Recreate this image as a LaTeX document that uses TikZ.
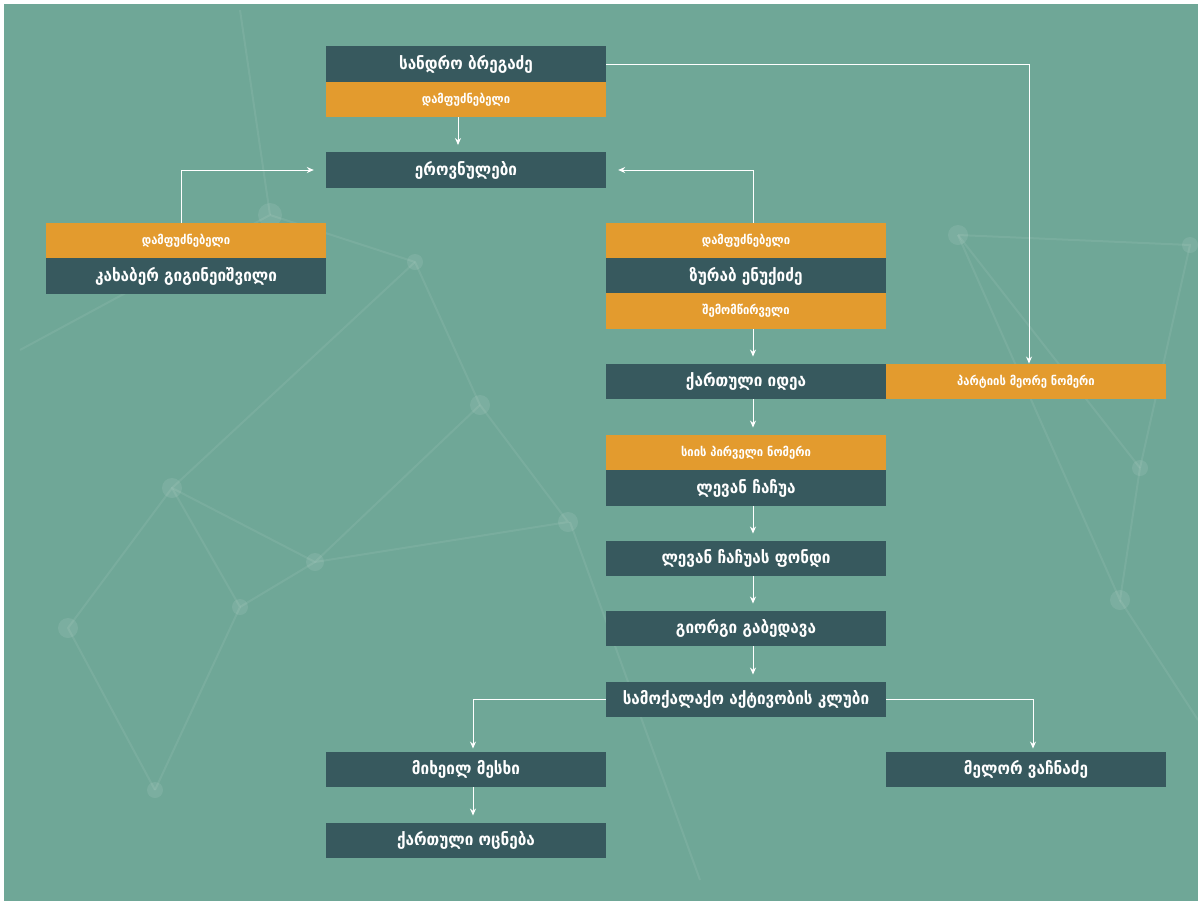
\documentclass[tikz,border=0pt]{standalone}
\usepackage{fontspec}
\newfontfamily\geofont{DejaVu Sans Condensed}
\usetikzlibrary{arrows.meta}

\definecolor{bgteal}{HTML}{6FA797}
\definecolor{boxdark}{HTML}{37595E}
\definecolor{boxorange}{HTML}{E39B2E}

\tikzset{
  namebox/.style={fill=boxdark, text=white, minimum width=280pt, minimum height=35.5pt,
    inner sep=0pt, font=\geofont\bfseries\fontsize{17}{17}\selectfont},
  rolebox/.style={namebox, fill=boxorange, font=\geofont\bfseries\fontsize{12.5}{12.5}\selectfont},
  link/.style={draw=white, line width=1pt, -{Stealth[length=7pt,width=6pt]}, shorten >=7pt},
  netline/.style={white, opacity=0.07, line width=2pt},
  netdot/.style={fill=white, opacity=0.09},
}

\begin{document}
\begin{tikzpicture}[x=1pt,y=-1pt]

  % background
  \fill [white] (0,0) rectangle (1203,906);
  \fill [bgteal] (4,4) rectangle (1198,901);

  % faint network behind
  \draw [netline] (270,215) -- (415,262) -- (480,405) -- (568,522) -- (315,562) -- (172,488) -- (68,628) -- (155,790);
  \draw [netline] (415,262) -- (172,488) -- (240,607) -- (155,790);
  \draw [netline] (240,607) -- (315,562) -- (480,405);
  \draw [netline] (270,215) -- (20,350) (270,215) -- (240,10) (570,522) -- (700,880);
  \draw [netline] (958,235) -- (1190,245) -- (1140,468) -- (1120,600) -- (958,235);
  \draw [netline] (958,235) -- (1140,468) (1120,600) -- (1198,720);
  \foreach \p/\r in {{270,215}/12, {415,262}/8, {480,405}/10, {568,522}/10, {315,562}/9,
                     {172,488}/10, {68,628}/10, {155,790}/8, {240,607}/8, {958,235}/10,
                     {1190,245}/8, {1140,468}/8, {1120,600}/10}
    \fill [netdot] (\p) circle [radius=\r];

  % top
  \node [namebox] (sandro) at (466,64) {სანდრო ბრეგაძე};
  \node [rolebox] (sandrorole) at (466,99.5) {დამფუძნებელი};
  \node [namebox] (nationals) at (466,170) {ეროვნულები};

  % left
  \node [rolebox] (kakhaberrole) at (186,240.5) {დამფუძნებელი};
  \node [namebox] (kakhaber) at (186,276) {კახაბერ გიგინეიშვილი};

  % right column
  \node [rolebox] (zurabrole) at (746,240.5) {დამფუძნებელი};
  \node [namebox] (zurab) at (746,276) {ზურაბ ენუქიძე};
  \node [rolebox] (zurabdonor) at (746,311) {შემომწირველი};
  \node [namebox] (idea) at (746,381.5) {ქართული იდეა};
  \node [rolebox] (secondnum) at (1026,381.5) {პარტიის მეორე ნომერი};
  \node [rolebox] (firstnum) at (746,452.5) {სიის პირველი ნომერი};
  \node [namebox] (levan) at (746,488) {ლევან ჩაჩუა};
  \node [namebox] (fund) at (746,558.5) {ლევან ჩაჩუას ფონდი};
  \node [namebox] (giorgi) at (746,628.5) {გიორგი გაბედავა};
  \node [namebox] (club) at (746,699.5) {სამოქალაქო აქტივობის კლუბი};

  % bottom
  \node [namebox] (mikheil) at (466,769.5) {მიხეილ მესხი};
  \node [namebox] (dream) at (466,840.5) {ქართული ოცნება};
  \node [namebox] (melor) at (1026,769.5) {მელორ ვაჩნაძე};

  % links
  \draw [link] ([xshift=-8pt]sandrorole.south) -- ([xshift=-8pt]nationals.north);
  \draw [link, shorten >=0pt] (sandro.east) -| ([xshift=3pt]secondnum.north);
  \draw [link, shorten >=12pt] ([xshift=-5pt]kakhaberrole.north) |- (nationals.west);
  \draw [link, shorten >=12pt] ([xshift=7pt]zurabrole.north) |- (nationals.east);
  \draw [link] ([xshift=7pt]zurabdonor.south) -- ([xshift=7pt]idea.north);
  \draw [link] ([xshift=7pt]idea.south) -- ([xshift=7pt]firstnum.north);
  \draw [link] ([xshift=7pt]levan.south) -- ([xshift=7pt]fund.north);
  \draw [link] ([xshift=7pt]fund.south) -- ([xshift=7pt]giorgi.north);
  \draw [link] ([xshift=7pt]giorgi.south) -- ([xshift=7pt]club.north);
  \draw [link, shorten >=3pt] (club.west) -| ([xshift=7pt]mikheil.north);
  \draw [link, shorten >=3pt] (club.east) -| ([xshift=7pt]melor.north);
  \draw [link] ([xshift=7pt]mikheil.south) -- ([xshift=7pt]dream.north);

\end{tikzpicture}
\end{document}
